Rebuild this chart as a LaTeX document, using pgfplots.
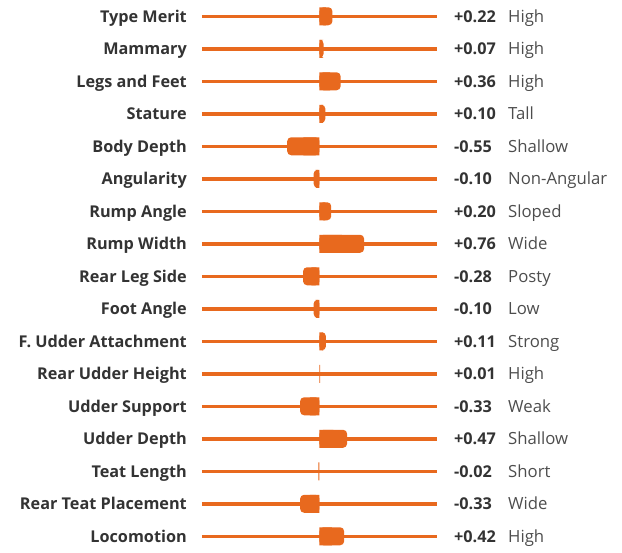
\documentclass[border=0pt]{standalone}
\usepackage{pgfplots}
\pgfplotsset{compat=1.18}
\usepackage{pgfplotstable}
\usepackage{fontspec}
\setmainfont{Open Sans}
\definecolor{bar}{HTML}{E8691E}
\definecolor{txt}{HTML}{333333}
\definecolor{desc}{HTML}{4D4D4D}

\pgfplotstableread{
y v
0 0.22
1 0.07
2 0.36
3 0.10
4 -0.55
5 -0.10
6 0.20
7 0.76
8 -0.28
9 -0.10
10 0.11
12 -0.33
13 0.47
15 -0.33
16 0.42
}\mainbars
\pgfplotstableread{
y v
11 0.01
14 -0.02
}\tinybars

\newcommand{\row}[4]{%
  \node[anchor=base east, text=txt, font=\bfseries\fontsize{16.3}{16.3}\selectfont, inner sep=0pt]
    at ([xshift=-15bp, yshift=-5.8bp]axis cs:-2,#1) {#2};
  \node[anchor=base west, text=txt, font=\bfseries\fontsize{16.3}{16.3}\selectfont, inner sep=0pt]
    at ([xshift=17bp, yshift=-5.8bp]axis cs:2,#1) {#3};
  \node[anchor=base west, text=desc, font=\fontsize{16.8}{16.8}\selectfont, inner sep=0pt]
    at ([xshift=71bp, yshift=-5.8bp]axis cs:2,#1) {#4};
}

\begin{document}
\begin{tikzpicture}
\begin{axis}[
  scale only axis,
  width=235bp, height=552.5bp,
  xmin=-2, xmax=2, ymin=-0.5, ymax=16.5,
  y dir=reverse,
  axis line style={draw=none},
  major tick length=0pt,
  xtick=\empty,
  ytick={0,...,16},
  yticklabels={},
  ymajorgrids=true,
  grid style={line width=3.5bp, color=bar},
  clip=false,
  xbar, bar shift=0pt, bar width=18bp,
]
\path (axis cs:-5.438,-0.5) rectangle (axis cs:5.149,16.5);
\addplot[fill=bar, draw=none, rounded corners=4bp] table[x=v, y=y] {\mainbars};
\addplot[fill=bar, draw=none] table[x expr=\thisrow{v}/2, y=y] {\mainbars};
\addplot[fill=bar, draw=none] table[x=v, y=y] {\tinybars};
\row{0}{Type Merit}{+0.22}{High}
\row{1}{Mammary}{+0.07}{High}
\row{2}{Legs and Feet}{+0.36}{High}
\row{3}{Stature}{+0.10}{Tall}
\row{4}{Body Depth}{-0.55}{Shallow}
\row{5}{Angularity}{-0.10}{Non-Angular}
\row{6}{Rump Angle}{+0.20}{Sloped}
\row{7}{Rump Width}{+0.76}{Wide}
\row{8}{Rear Leg Side}{-0.28}{Posty}
\row{9}{Foot Angle}{-0.10}{Low}
\row{10}{F. Udder Attachment}{+0.11}{Strong}
\row{11}{Rear Udder Height}{+0.01}{High}
\row{12}{Udder Support}{-0.33}{Weak}
\row{13}{Udder Depth}{+0.47}{Shallow}
\row{14}{Teat Length}{-0.02}{Short}
\row{15}{Rear Teat Placement}{-0.33}{Wide}
\row{16}{Locomotion}{+0.42}{High}
\end{axis}
\end{tikzpicture}
\end{document}
